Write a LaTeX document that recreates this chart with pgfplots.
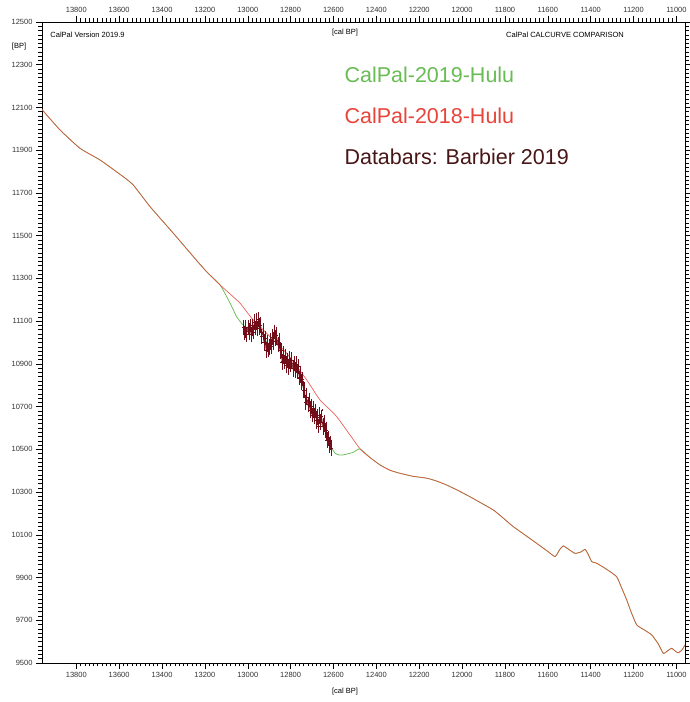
\documentclass[border=0pt]{standalone}
\usepackage{pgfplots}
\pgfplotsset{compat=1.18}
\usepackage{pgfplotstable}
\usepackage{fontspec}
\setmainfont{Liberation Sans}

\definecolor{c19}{RGB}{105,188,85}
\definecolor{c18}{RGB}{232,68,58}
\definecolor{cbar}{RGB}{115,12,25}
\definecolor{ctxt}{RGB}{72,22,22}

% calibration curves (cal BP, BP)
\pgfplotstableread{
x y
13960 12090
13876 11995
13783 11909
13689 11854
13581 11776
13534 11737
13456 11636
13347 11511
13254 11402
13192 11331
13129 11269
13036 11184
12974 11105
12818 10949
12725 10825
12663 10731
12585 10653
12476 10502
12430 10462
12383 10427
12336 10402
12290 10388
12230 10374
12165 10365
12120 10352
12072 10333
12020 10308
11963 10278
11910 10248
11854 10216
11810 10180
11761 10138
11705 10098
11652 10060
11600 10022
11566 9998
11545 10030
11528 10048
11500 10030
11473 10013
11445 10020
11426 10032
11410 10005
11395 9974
11372 9967
11325 9938
11279 9904
11255 9850
11232 9795
11210 9735
11185 9678
11150 9655
11115 9631
11085 9590
11061 9545
11040 9558
11022 9569
11005 9555
10991 9548
10975 9560
10960 9584
}\caleighteen

\pgfplotstableread{
x y
13960 12090
13876 11995
13783 11909
13689 11854
13581 11776
13534 11737
13456 11636
13347 11511
13254 11402
13192 11331
13129 11269
13083 11185
13052 11121
13022 11082
12990 11062
12960 11078
12930 11040
12900 10980
12870 11025
12840 10935
12800 10900
12760 10860
12730 10745
12700 10680
12670 10632
12640 10600
12615 10520
12593 10482
12575 10474
12554 10474
12530 10480
12508 10486
12476 10502
12430 10462
12383 10427
12336 10402
12290 10388
12230 10374
12165 10365
12120 10352
12072 10333
12020 10308
11963 10278
11910 10248
11854 10216
11810 10180
11761 10138
11705 10098
11652 10060
11600 10022
11566 9998
11545 10030
11528 10048
11500 10030
11473 10013
11445 10020
11426 10032
11410 10005
11395 9974
11372 9967
11325 9938
11279 9904
11255 9850
11232 9795
11210 9735
11185 9678
11150 9655
11115 9631
11085 9590
11061 9545
11040 9558
11022 9569
11005 9555
10991 9548
10975 9560
10960 9584
}\calnineteen

% Barbier 2019 data bars
\pgfplotstableread{
x y e
13020 11070 32
13015 11045 28
13010 11065 38
13005 11038 30
13000 11070 33
12995 11052 36
12990 11080 28
12985 11037 33
12980 11070 38
12975 11048 30
12970 11097 33
12965 11065 28
12960 11100 36
12955 11065 33
12950 11110 30
12945 11075 38
12940 11082 33
12935 11028 30
12930 11050 36
12925 11003 33
12920 11022 28
12915 10965 33
12910 10995 38
12905 10965 30
12900 10980 33
12895 11003 36
12890 10982 30
12885 11025 33
12880 11005 38
12875 11050 30
12870 11020 33
12865 11035 36
12860 10990 30
12855 11010 33
12850 10962 36
12845 10963 30
12840 10910 33
12835 10940 38
12830 10910 30
12825 10935 33
12820 10895 36
12815 10917 30
12810 10885 33
12805 10917 38
12800 10895 30
12795 10917 33
12790 10880 36
12785 10902 30
12780 10870 33
12775 10897 36
12770 10865 30
12765 10887 33
12760 10835 30
12755 10852 36
12750 10813 33
12745 10830 30
12740 10778 36
12735 10777 33
12730 10720 30
12725 10745 36
12720 10710 33
12715 10730 30
12710 10685 36
12705 10700 33
12700 10660 30
12695 10688 36
12690 10657 33
12685 10680 30
12680 10635 36
12675 10650 33
12670 10610 30
12665 10658 36
12660 10627 33
12655 10655 30
12650 10607 36
12645 10623 33
12640 10585 30
12635 10590 36
12630 10545 33
12625 10550 30
12620 10520 33
12615 10530 30
12610 10505 33
}\barbier

\begin{document}
\begin{tikzpicture}
\pgfplotsset{calax/.style={
  scale only axis, width=643pt, height=641pt,
  x dir=reverse,
  xmin=10960, xmax=13960, ymin=9500, ymax=12500,
  xtick={11000,11200,...,13800},
  ytick={9500,9700,...,12500},
  scaled ticks=false,
  minor x tick num=9, minor y tick num=9,
  tick align=outside,
  major tick length=6pt, minor tick length=3.5pt,
  axis line style={line width=0.8pt},
  tick style={black, line width=0.5pt},
  tick label style={font=\fontsize{7.5}{9}\selectfont, text=black!80},
  /pgf/number format/assume math mode=true,
  /pgf/number format/set thousands separator={},
  /pgf/number format/fixed,
  clip mode=individual,
}}
\begin{axis}[calax, name=ax]
\addplot[c19, line width=0.75pt, smooth, tension=0.3] table[x=x, y=y] {\calnineteen};
\addplot[c18, line width=0.7pt, opacity=0.85, smooth, tension=0.3] table[x=x, y=y] {\caleighteen};
\addplot[cbar, line width=0.5pt] table[x=x, y=y] {\barbier};
\addplot[draw=none, mark=none,
  error bars/.cd, y dir=both, y explicit, x dir=both, x fixed=4,
  error bar style={cbar, line width=0.5pt},
  error mark options={cbar, mark size=0.8pt}]
  table[x=x, y=y, y error=e] {\barbier};

\node[font=\fontsize{7.5}{9}\selectfont, anchor=west] at (axis cs:13937,12439) {CalPal Version 2019.9};
\node[font=\fontsize{7.5}{9}\selectfont] at (axis cs:12546,12449) {[cal BP]};
\node[font=\fontsize{7.5}{9}\selectfont] at (axis cs:11520,12439) {CalPal CALCURVE COMPARISON};
\node[font=\fontsize{7.5}{9}\selectfont] at (axis cs:12546,9364) {[cal BP]};
\node[font=\fontsize{7.5}{9}\selectfont] at (axis cs:14067,12383) {[BP]};

\node[font=\fontsize{21.5}{24}\selectfont, text=c19, anchor=west] at (axis cs:12565,12252) {CalPal-2019-Hulu};
\node[font=\fontsize{21.5}{24}\selectfont, text=c18, anchor=west] at (axis cs:12565,12060) {CalPal-2018-Hulu};
\node[font=\fontsize{21.5}{24}\selectfont, text=ctxt, anchor=west] at (axis cs:12565,11868) {Databars: Barbier 2019};
\end{axis}
\begin{axis}[calax, axis x line*=top, hide y axis, xticklabel pos=upper]
\end{axis}
\pgfresetboundingbox
\useasboundingbox ([shift={(-42pt,-39pt)}]ax.south west) rectangle ([shift={(4pt,22pt)}]ax.north east);
\end{tikzpicture}
\end{document}
